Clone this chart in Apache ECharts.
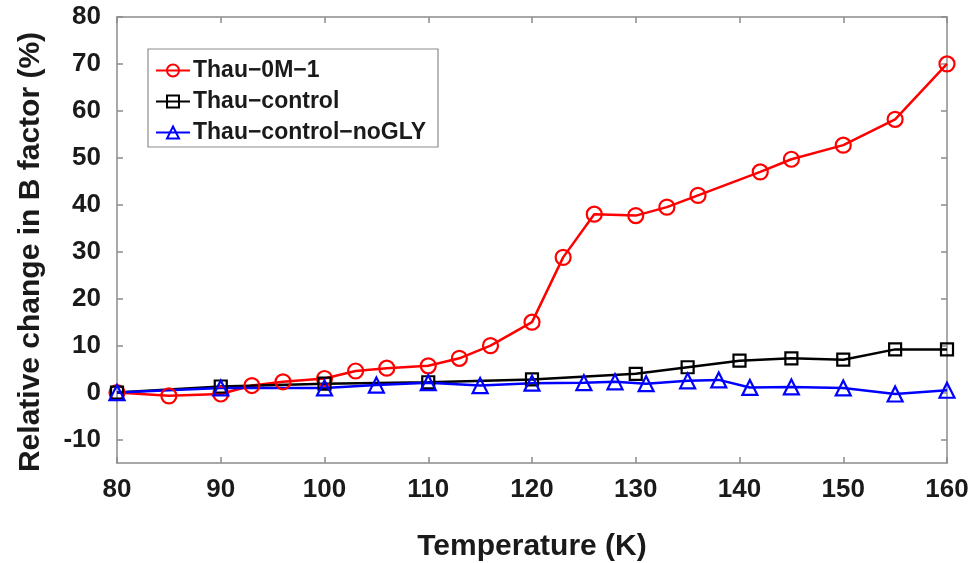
<!DOCTYPE html>
<html lang="en">
  <head>
    <meta charset="UTF-8" />
    <title>Relative change in B factor</title>
    <script src="https://cdn.jsdelivr.net/npm/echarts@6/dist/echarts.min.js"></script>
    <style>
      html, body { margin: 0; padding: 0; background: #fff; }
      #main { width: 974px; height: 563px; }
    </style>
  </head>
  <body>
    <div id="main"></div>

    <script>
      // Thau-0M-1
      const tempRed = [80, 85, 90, 93, 96, 100, 103, 106, 110, 113, 116, 120, 123, 126, 130, 133, 136, 142, 145, 150, 155, 160];
      const valRed = [0, -0.7, -0.3, 1.5, 2.3, 3.0, 4.6, 5.2, 5.7, 7.3, 10.0, 15.0, 28.8, 38.0, 37.7, 39.5, 42.0, 47.0, 49.7, 52.7, 58.2, 70.0];

      // Thau-control
      const tempBlack = [80, 90, 100, 110, 120, 130, 135, 140, 145, 150, 155, 160];
      const valBlack = [0, 1.3, 1.9, 2.2, 2.8, 4.0, 5.4, 6.8, 7.3, 7.0, 9.2, 9.2];

      // Thau-control-noGLY
      const tempBlue = [80, 90, 100, 105, 110, 115, 120, 125, 128, 131, 135, 138, 141, 145, 150, 155, 160];
      const valBlue = [0, 1.0, 1.0, 1.6, 2.1, 1.5, 2.0, 2.1, 2.3, 1.9, 2.5, 2.7, 1.1, 1.2, 1.0, -0.3, 0.5];

      const seriesNames = ['Thau\u22120M\u22121', 'Thau\u2212control', 'Thau\u2212control\u2212noGLY'];
      const yTicks = [-10, 0, 10, 20, 30, 40, 50, 60, 70, 80];

      const font = '"Liberation Sans", Arial, sans-serif';
      const axisGray = '#8c8c8c';
      const textColor = '#1a1a1a';

      function pairs(xs, ys) {
        return xs.map((x, i) => [x, ys[i]]);
      }

      function makeSeries(name, data, color, symbol, size) {
        return {
          name,
          type: 'line',
          data,
          symbol,
          symbolSize: size,
          showAllSymbol: true,
          lineStyle: { color, width: 2.5 },
          itemStyle: { color: 'rgba(255,255,255,0)', borderColor: color, borderWidth: 2.2 },
          emphasis: { disabled: true },
          z: 3
        };
      }

      const axisLine = { show: true, onZero: false, lineStyle: { color: axisGray, width: 1.5 } };
      const tickStyle = { color: axisGray, width: 1.5 };

      const commonX = {
        type: 'value',
        min: 80,
        max: 160,
        interval: 10,
        axisLine,
        axisTick: { show: true, inside: true, length: 6, lineStyle: tickStyle },
        splitLine: { show: false }
      };

      const commonY = {
        type: 'value',
        min: -15,
        max: 80,
        interval: 10,
        axisLine,
        axisTick: { show: true, inside: true, length: 6, lineStyle: tickStyle, customValues: yTicks },
        splitLine: { show: false }
      };

      const options = {
        animation: false,
        textStyle: { fontFamily: font },
        grid: { left: 117, right: 27, top: 17, bottom: 100, containLabel: false, outerBoundsMode: 'none' },
        legend: {
          orient: 'vertical',
          left: 148,
          top: 49,
          padding: [10, 12, 3, 7],
          itemGap: 8,
          itemWidth: 34,
          itemHeight: 15,
          borderColor: axisGray,
          borderWidth: 1.2,
          backgroundColor: '#fff',
          textStyle: { fontSize: 23, fontWeight: 'bold', color: textColor, fontFamily: font, padding: [0, 0, 0, -2] },
          data: seriesNames
        },
        xAxis: [
          Object.assign({}, commonX, {
            position: 'bottom',
            name: 'Temperature (K)',
            nameLocation: 'middle',
            nameGap: 69,
            nameTextStyle: { fontSize: 30, fontWeight: 'bold', color: textColor },
            axisLabel: { fontSize: 26, fontWeight: 'bold', color: textColor, margin: 14 }
          }),
          Object.assign({}, commonX, {
            position: 'top',
            axisLabel: { show: false }
          })
        ],
        yAxis: [
          Object.assign({}, commonY, {
            position: 'left',
            name: 'Relative change in B factor (%)',
            nameLocation: 'middle',
            nameGap: 71,
            nameTextStyle: { fontSize: 30, fontWeight: 'bold', color: textColor, padding: [0, 24, 0, 0] },
            axisLabel: {
              fontSize: 26, fontWeight: 'bold', color: textColor, margin: 16,
              customValues: yTicks
            }
          }),
          Object.assign({}, commonY, {
            position: 'right',
            axisLabel: { show: false }
          })
        ],
        series: [
          makeSeries(seriesNames[0], pairs(tempRed, valRed), '#ff0000', 'circle', 15),
          makeSeries(seriesNames[1], pairs(tempBlack, valBlack), '#000000', 'rect', 12),
          makeSeries(seriesNames[2], pairs(tempBlue, valBlue), '#0000ff', 'triangle', 15)
        ]
      };

      const myChart = echarts.init(document.querySelector('#main'));
      myChart.setOption(options);

      window.onresize = function () {
        myChart.resize();
      };
    </script>
  </body>
</html>
